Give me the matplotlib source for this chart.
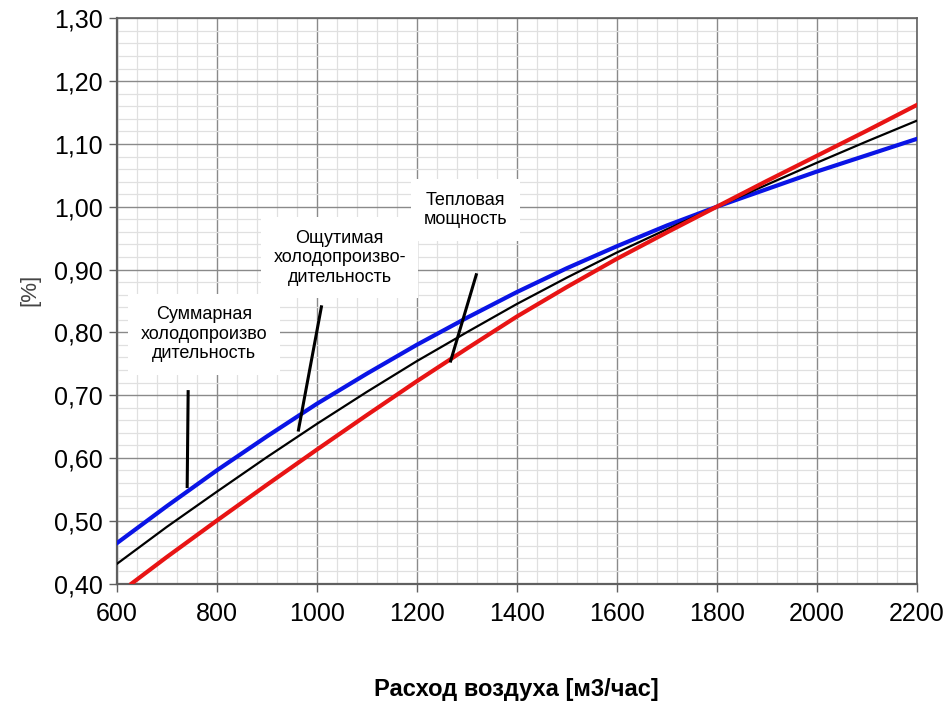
import matplotlib
matplotlib.use("Agg")
import matplotlib.pyplot as plt
from matplotlib.ticker import MultipleLocator, FuncFormatter

plt.rcParams['font.family'] = ['Liberation Sans', 'DejaVu Sans']

# air flow, m3/h
flow = [600, 700, 800, 900, 1000, 1100, 1200, 1300, 1400,
        1500, 1600, 1700, 1800, 1900, 2000, 2100, 2200]
# total cooling capacity (blue)
total = [0.464, 0.523, 0.580, 0.634, 0.686, 0.734, 0.780, 0.823, 0.864,
         0.902, 0.937, 0.970, 1.000, 1.028, 1.056, 1.082, 1.108]
# sensible cooling capacity (black)
sensible = [0.431, 0.490, 0.546, 0.601, 0.654, 0.705, 0.754, 0.800, 0.845,
            0.887, 0.927, 0.964, 1.000, 1.035, 1.070, 1.104, 1.137]
# heating capacity (red), starts at the bottom edge
flow_heat = [630, 700, 800, 900, 1000, 1100, 1200, 1300, 1400,
             1500, 1600, 1700, 1800, 1900, 2000, 2100, 2200]
heat = [0.400, 0.442, 0.500, 0.557, 0.613, 0.668, 0.722, 0.774, 0.825,
        0.872, 0.917, 0.959, 1.000, 1.041, 1.081, 1.121, 1.162]

# labels: text, text position, pointer (x0, y0, x1, y1)
labels = ["Суммарная\nхолодопроизво\nдительность",
          "Ощутимая\nхолодопроизво-\nдительность",
          "Тепловая\nмощность"]
label_pos = [(775, 0.797), (1046, 0.919), (1298, 0.995)]
pointers = [(743, 0.708, 741, 0.552),
            (1010, 0.843, 963, 0.642),
            (1320, 0.894, 1267, 0.752)]

fig = plt.figure(figsize=(9.5, 7.06), dpi=100)
ax = fig.add_axes([0.1228, 0.1735, 0.8422, 0.8005])

ax.plot(flow, total, color='#0a14e6', lw=3.0, zorder=3)
ax.plot(flow, sensible, color='black', lw=1.6, zorder=3)
ax.plot(flow_heat, heat, color='#e81414', lw=3.0, zorder=3)

for txt, (tx, ty) in zip(labels, label_pos):
    ax.text(tx, ty, txt, ha='center', va='center', fontsize=13,
            linespacing=1.2, zorder=4,
            bbox=dict(facecolor='white', edgecolor='none', pad=9))

for x0, y0, x1, y1 in pointers:
    ax.plot([x0, x1], [y0, y1], color='black', lw=2.2, zorder=5,
            solid_capstyle='butt')

ax.set_xlim(600, 2200)
ax.set_ylim(0.40, 1.30)
ax.xaxis.set_major_locator(MultipleLocator(200))
ax.xaxis.set_minor_locator(MultipleLocator(40))
ax.yaxis.set_major_locator(MultipleLocator(0.10))
ax.yaxis.set_minor_locator(MultipleLocator(0.02))
ax.yaxis.set_major_formatter(FuncFormatter(lambda v, p: f"{v:.2f}".replace('.', ',')))

ax.grid(which='major', color='#8a8a8a', lw=1.0)
ax.grid(which='minor', color='#e0e0e0', lw=0.9)
ax.set_axisbelow(True)

for s in ax.spines.values():
    s.set_color('#606060')
    s.set_linewidth(1.2)
ax.spines['left'].set_linewidth(1.6)
ax.spines['bottom'].set_linewidth(1.6)

ax.tick_params(which='major', length=6, width=1, color='#606060',
               labelsize=18, pad=4)
ax.tick_params(axis='x', pad=7)
ax.tick_params(which='minor', length=0)

ax.set_xlabel("Расход воздуха [м3/час]", fontsize=17, fontweight='bold', va='center')
ax.xaxis.set_label_coords(0.5, -0.188)
ax.set_ylabel("[%]", fontsize=16, color='#444444', va='center')
ax.yaxis.set_label_coords(-0.108, 0.519)

fig.savefig("out.png", dpi=100)
